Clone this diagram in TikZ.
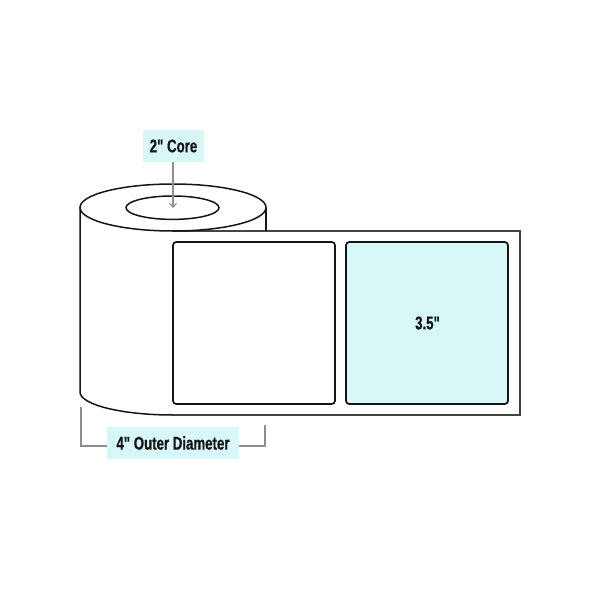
\documentclass[tikz,border=0pt]{standalone}
\usepackage{fontspec}
\newfontfamily\tagface{Liberation Sans Bold}[FakeStretch=0.72,FakeBold=0.6]
\usetikzlibrary{arrows.meta}
\definecolor{tint}{HTML}{D8F8F8}
\definecolor{ink}{HTML}{151515}
\definecolor{edge}{HTML}{444444}
\definecolor{guide}{HTML}{8E8E8E}
\tikzset{
  x=0.5pt,y=-0.5pt,
  rollline/.style={draw=ink,line width=0.75pt},
  stripline/.style={draw=edge,line width=0.8pt},
  labelbox/.style={draw=ink,line width=0.85pt,rounded corners=1.6pt},
  tagfont/.style={font=\tagface\fontsize{9.2}{11}\selectfont,text=ink},
  tag/.style={tagfont,fill=tint,inner sep=0pt},
  guideline/.style={draw=guide,line width=0.55pt},
}
\begin{document}
\begin{tikzpicture}
\useasboundingbox (0,0) rectangle (600,600);
% roll body and strip
\draw[stripline] (173,231) -- (520,231) -- (520,415) -- (173,415);
\draw[rollline] (80,208) -- (80,392) .. controls (80,404.7) and (121.9,415) .. (173,415);
\draw[rollline] (266,208) -- (266,231);
\draw[rollline] (173,207.5) ellipse [x radius=93,y radius=23.5];
\draw[rollline] (172.5,207.7) ellipse [x radius=46.5,y radius=11.7];
% labels on the strip
\path[labelbox] (173,242) rectangle (335,404);
\path[labelbox,fill=tint] (346,242) rectangle (508,404);
\node[tagfont,inner sep=0pt] (size) at (427.5,323) {3.5"};
% callouts
\node[tag,minimum width=30.5pt,minimum height=16pt] (core) at (173.5,146) {2" Core};
\node[tag,minimum width=66pt,minimum height=16pt] (outer) at (173,443) {4" Outer Diameter};
\coordinate (coreend) at (173,208);
\coordinate (la) at (81,407);
\coordinate (lb) at (81,446);
\coordinate (ra) at (265,425);
\coordinate (rb) at (265,446);
\draw[guideline,-{Straight Barb[length=2pt,width=3.6pt]}] (core.south -| coreend) -- (coreend);
\draw[guideline] (la) -- (lb) -- (lb -| outer.west);
\draw[guideline] (ra) -- (rb) -- (rb -| outer.east);
\end{tikzpicture}
\end{document}
